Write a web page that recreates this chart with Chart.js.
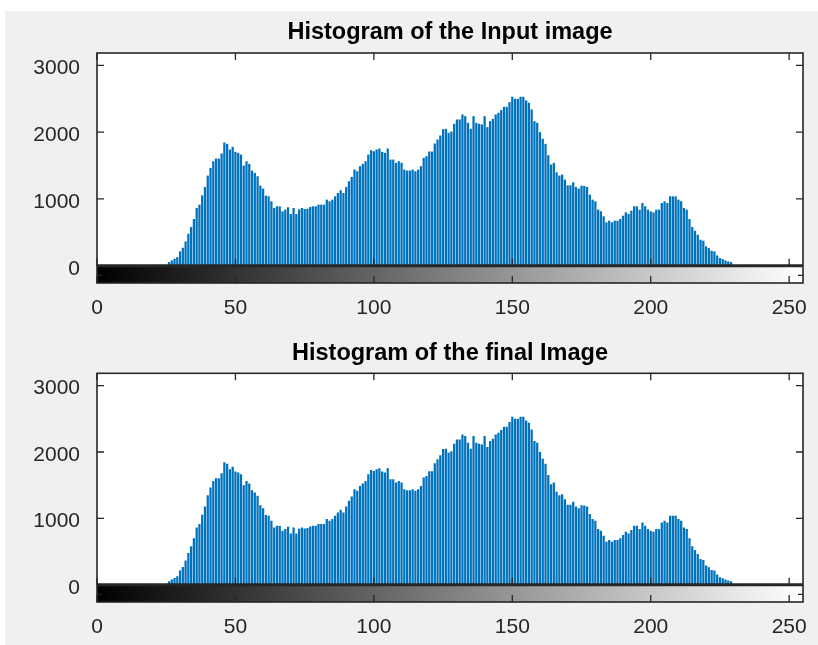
<!DOCTYPE html>
<html>
<head>
<meta charset="utf-8">
<script src="https://cdn.jsdelivr.net/npm/chart.js@4.4.0/dist/chart.umd.min.js"></script>
<style>
  html, body { margin: 0; padding: 0; background: #fff; }
  body { width: 818px; height: 645px; position: relative; overflow: hidden; }
  #fig { position: absolute; left: 5px; top: 11px; right: 0; bottom: 0; background: #f0f0f0; }
  .plot { position: absolute; left: 0; width: 818px; }
  #wrap-input { top: 0; height: 330px; }
  #wrap-final { top: 330px; height: 315px; }
</style>
</head>
<body>
<div id="fig"></div>
<div class="plot" id="wrap-input"><canvas id="chart-input"></canvas></div>
<div class="plot" id="wrap-final"><canvas id="chart-final"></canvas></div>
<script>
// ==========================================
// データ（256階調ヒストグラム）
// ==========================================

const inputCounts = [
  0, 0, 0, 0, 0, 0, 0, 0, 0, 0, 0, 0, 0, 0, 0, 0,
  0, 0, 0, 0, 0, 0, 0, 0, 0, 0, 50, 75, 100, 125, 210, 265,
  360, 475, 575, 695, 860, 910, 1050, 1175, 1345, 1460, 1560, 1600, 1600, 1675, 1840, 1820,
  1735, 1775, 1700, 1685, 1660, 1495, 1560, 1520, 1420, 1385, 1335, 1195, 1150, 1045, 1035, 960,
  860, 885, 885, 810, 835, 870, 770, 860, 770, 840, 860, 845, 850, 875, 885, 885,
  910, 910, 910, 985, 960, 985, 1035, 1085, 1125, 1085, 1175, 1260, 1325, 1435, 1410, 1485,
  1520, 1560, 1660, 1725, 1710, 1735, 1750, 1700, 1685, 1750, 1585, 1585, 1535, 1560, 1535, 1435,
  1420, 1420, 1435, 1410, 1435, 1485, 1610, 1635, 1705, 1705, 1825, 1885, 1945, 2040, 2045, 1985,
  2005, 2120, 2185, 2185, 2260, 2235, 2135, 2045, 2235, 2135, 2120, 2110, 2235, 2070, 2160, 2195,
  2260, 2285, 2325, 2375, 2375, 2445, 2525, 2495, 2495, 2525, 2525, 2470, 2435, 2335, 2160, 2135,
  1995, 1895, 1820, 1650, 1510, 1535, 1395, 1345, 1360, 1285, 1200, 1200, 1245, 1175, 1150, 1195,
  1190, 1175, 1060, 985, 960, 835, 810, 735, 645, 670, 645, 670, 670, 695, 745, 795,
  770, 820, 885, 885, 835, 935, 885, 835, 810, 795, 835, 835, 935, 960, 935, 1035,
  1035, 1035, 985, 960, 860, 835, 695, 575, 520, 460, 385, 370, 285, 260, 220, 210,
  150, 110, 95, 75, 60, 50, 0, 0, 0, 0, 0, 0, 0, 0, 0, 0,
  0, 0, 0, 0, 0, 0, 0, 0, 0, 0, 0, 0, 0, 0, 0, 0
];

// 最終画像のヒストグラムは入力と見分けがつかない
const finalCounts = inputCounts.slice();

const X_TICKS = [0, 50, 100, 150, 200, 250];
const Y_TICKS = [0, 1000, 2000, 3000];
const X_MIN = 0;
const X_MAX = 255;
const Y_MIN = -258;
const Y_MAX = 3185;

const FONT = '"Liberation Sans", Arial, Helvetica, sans-serif';
const AXIS_COLOR = '#262626';

// ==========================================
// MATLAB風の軸ボックス＋グレースケールバー
// ==========================================

const matlabAxes = {
  id: 'matlabAxes',
  beforeDatasetsDraw(chart) {
    const { ctx, chartArea: a, scales: { x, y } } = chart;
    const y0 = y.getPixelForValue(0);
    ctx.save();
    ctx.fillStyle = '#ffffff';
    ctx.fillRect(a.left, a.top, a.width, y0 - a.top);
    const g = ctx.createLinearGradient(x.getPixelForValue(X_MIN), 0, x.getPixelForValue(X_MAX), 0);
    g.addColorStop(0, '#000000');
    g.addColorStop(1, '#ffffff');
    ctx.fillStyle = g;
    ctx.fillRect(a.left, y0, a.width, a.bottom - y0);
    ctx.restore();
  },
  afterDatasetsDraw(chart) {
    const { ctx, chartArea: a, scales: { x, y } } = chart;
    const y0 = y.getPixelForValue(0);
    const len = 7;
    ctx.save();
    ctx.strokeStyle = AXIS_COLOR;

    // ベースライン
    ctx.lineWidth = 3;
    ctx.beginPath();
    ctx.moveTo(a.left, y0);
    ctx.lineTo(a.right, y0);
    ctx.stroke();

    ctx.lineWidth = 1.3;
    ctx.beginPath();
    X_TICKS.forEach(v => {
      const px = x.getPixelForValue(v);
      ctx.moveTo(px, a.top);
      ctx.lineTo(px, a.top + len);
      ctx.moveTo(px, y0);
      ctx.lineTo(px, y0 - len);
      ctx.moveTo(px, a.bottom);
      ctx.lineTo(px, a.bottom - len);
    });
    Y_TICKS.forEach(v => {
      const py = y.getPixelForValue(v);
      ctx.moveTo(a.left, py);
      ctx.lineTo(a.left + len, py);
      ctx.moveTo(a.right, py);
      ctx.lineTo(a.right - len, py);
    });
    const mid = (y0 + a.bottom) / 2 + 1;
    ctx.moveTo(a.left, mid);
    ctx.lineTo(a.left + 5, mid);
    ctx.moveTo(a.right, mid);
    ctx.lineTo(a.right - 5, mid);
    ctx.stroke();

    ctx.lineWidth = 1.6;
    ctx.strokeRect(a.left, a.top, a.width, a.height);
    ctx.restore();
  }
};

// ==========================================
// ヒストグラム描画
// ==========================================

function renderHistogram(canvasId, title, counts, titlePad, xAxisHeight) {
  const ctx = document.getElementById(canvasId);
  if (!ctx) return null;

  return new Chart(ctx, {
    type: 'bar',
    data: {
      datasets: [{
        data: counts.map((c, i) => ({ x: i, y: c })),
        backgroundColor: '#0072BD',
        borderWidth: 0,
        barThickness: 1.6
      }]
    },
    options: {
      responsive: true,
      maintainAspectRatio: false,
      animation: false,
      layout: { padding: { left: 0, right: 15, top: 0, bottom: 0 } },
      plugins: {
        legend: { display: false },
        tooltip: { enabled: false },
        title: {
          display: true,
          fullSize: false,
          text: title,
          color: '#000',
          font: { family: FONT, size: 23.5, weight: 'bold' },
          padding: titlePad
        }
      },
      scales: {
        x: {
          type: 'linear',
          min: X_MIN,
          max: X_MAX,
          offset: false,
          grid: { display: false },
          border: { display: false },
          ticks: {
            color: AXIS_COLOR,
            font: { family: FONT, size: 21 },
            padding: 5,
            maxRotation: 0,
            callback: v => String(v)
          },
          afterBuildTicks: s => { s.ticks = X_TICKS.map(v => ({ value: v })); },
          afterFit: s => { s.height = xAxisHeight; s.paddingLeft = 0; s.paddingRight = 0; }
        },
        y: {
          type: 'linear',
          min: Y_MIN,
          max: Y_MAX,
          grid: { display: false },
          border: { display: false },
          ticks: {
            color: AXIS_COLOR,
            font: { family: FONT, size: 21 },
            padding: 9,
            labelOffset: 3,
            callback: v => String(v)
          },
          afterBuildTicks: s => { s.ticks = Y_TICKS.map(v => ({ value: v })); },
          afterFit: s => { s.width = 97; s.paddingTop = 0; s.paddingBottom = 0; }
        }
      }
    },
    plugins: [matlabAxes]
  });
}

renderHistogram('chart-input', 'Histogram of the Input image', inputCounts, { top: 18.9, bottom: 5.9 }, 47);
renderHistogram('chart-final', 'Histogram of the final Image', finalCounts, { top: 9.9, bottom: 5.2 }, 43);
</script>
</body>
</html>
